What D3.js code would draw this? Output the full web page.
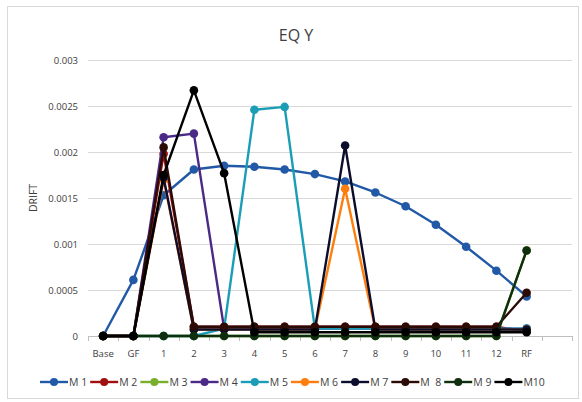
<!DOCTYPE html>
<html>
<head>
<meta charset="utf-8">
<script src="https://cdn.jsdelivr.net/npm/d3@7"></script>
<style>
  html, body { margin: 0; padding: 0; background: #fff; }
  svg { display: block; font-family: "Open Sans", "Liberation Sans", sans-serif; }
</style>
</head>
<body>
<svg id="chart" width="582" height="402"></svg>
<script>
// Floor labels along the x axis (one trailing empty slot, as in the workbook)
const categories = ["Base", "GF", "1", "2", "3", "4", "5", "6", "7", "8", "9", "10", "11", "12", "RF", ""];
const yTicks = [0, 0.0005, 0.001, 0.0015, 0.002, 0.0025, 0.003];
const yTickLabels = ["0", "0.0005", "0.001", "0.0015", "0.002", "0.0025", "0.003"];

const seriesNames = ["M 1", "M 2", "M 3", "M 4", "M 5", "M 6", "M 7", "M  8", "M 9", "M10"];
const seriesColors = ["#2259a6", "#a01010", "#7aaf2c", "#4a2a86", "#1b9db6", "#ff7d0d", "#0b0d2c", "#2c0a06", "#0e2e0e", "#000000"];

// Drift per floor, Base .. RF
const m1  = [0, 0.00061, 0.00153, 0.00181, 0.00185, 0.00184, 0.00181, 0.00176, 0.00168, 0.00156, 0.00141, 0.00121, 0.00097, 0.00071, 0.00043];
const m2  = [0, 0, 0.00198, 0.00010, 0.00010, 0.00010, 0.00010, 0.00010, 0.00010, 0.00010, 0.00010, 0.00010, 0.00010, 0.00010, 0.00005];
const m3  = [0, 0, 0, 0, 0, 0, 0, 0, 0, 0, 0, 0, 0, 0, 0.00093];
const m4  = [0, 0, 0.00216, 0.00220, 0.00008, 0.00008, 0.00008, 0.00008, 0.00008, 0.00008, 0.00008, 0.00008, 0.00008, 0.00008, 0.00008];
const m5  = [0, 0, 0, 0, 0.00008, 0.00246, 0.00249, 0.00008, 0.00008, 0.00008, 0.00008, 0.00008, 0.00008, 0.00008, 0.00008];
const m6  = [0, 0, 0.00170, 0.00007, 0.00007, 0.00007, 0.00007, 0.00007, 0.00160, 0.00007, 0.00007, 0.00007, 0.00007, 0.00007, 0.00007];
const m7  = [0, 0, 0.00172, 0.00007, 0.00007, 0.00007, 0.00007, 0.00007, 0.00207, 0.00007, 0.00007, 0.00007, 0.00007, 0.00007, 0.00007];
const m8  = [0, 0, 0.00205, 0.00010, 0.00010, 0.00010, 0.00010, 0.00010, 0.00010, 0.00010, 0.00010, 0.00010, 0.00010, 0.00010, 0.00047];
const m9  = [0, 0, 0, 0, 0, 0, 0, 0, 0, 0, 0, 0, 0, 0, 0.00093];
const m10 = [0, 0, 0.00175, 0.00267, 0.00177, 0.00004, 0.00004, 0.00004, 0.00004, 0.00004, 0.00004, 0.00004, 0.00004, 0.00004, 0.00004];

const seriesValues = [m1, m2, m3, m4, m5, m6, m7, m8, m9, m10];

const svg = d3.select("#chart");
const plot = { left: 88, right: 572, top: 60, bottom: 336 };

// Chart frame
svg.append("rect")
  .attr("x", 7.5).attr("y", 6.5)
  .attr("width", 571).attr("height", 392)
  .attr("fill", "#fff").attr("stroke", "#d9d9d9");

const x = d3.scaleBand().domain(categories).range([plot.left, plot.right]).padding(0);
const y = d3.scaleLinear().domain([0, 0.003]).range([plot.bottom, plot.top]);

// Title
svg.append("text")
  .attr("x", 296).attr("y", 41)
  .attr("text-anchor", "middle")
  .attr("font-size", 16).attr("fill", "#404040")
  .text("EQ Y");

// Horizontal gridlines
svg.append("g").selectAll("line")
  .data(yTicks.filter(d => d > 0))
  .join("line")
  .attr("x1", plot.left).attr("x2", plot.right)
  .attr("y1", d => Math.round(y(d)) + 0.5).attr("y2", d => Math.round(y(d)) + 0.5)
  .attr("stroke", "#d9d9d9").attr("stroke-width", 1);

// Y axis labels
const yAxis = d3.axisLeft(y).tickValues(yTicks)
  .tickFormat((d, i) => yTickLabels[i]).tickSize(0).tickPadding(10);
svg.append("g")
  .attr("transform", `translate(${plot.left},0)`)
  .call(yAxis)
  .call(g => g.select(".domain").remove())
  .call(g => g.selectAll("text").attr("font-size", 9.5).attr("fill", "#404040")
    .attr("font-family", "'Open Sans', 'Liberation Sans', sans-serif"));

// Y axis title
svg.append("text")
  .attr("transform", `translate(37,${(plot.top + plot.bottom) / 2}) rotate(-90)`)
  .attr("text-anchor", "middle")
  .attr("font-size", 10.5).attr("fill", "#404040")
  .text("DRIFT");

// X axis with tick marks between categories
const xAxisG = svg.append("g").attr("transform", `translate(0,${plot.bottom})`);
xAxisG.append("line")
  .attr("x1", plot.left).attr("x2", plot.right)
  .attr("y1", 0.5).attr("y2", 0.5)
  .attr("stroke", "#bfbfbf");
xAxisG.selectAll("line.tick")
  .data(categories.concat(["__end"]))
  .join("line").attr("class", "tick")
  .attr("x1", (d, i) => Math.round(plot.left + i * x.bandwidth()) + 0.5)
  .attr("x2", (d, i) => Math.round(plot.left + i * x.bandwidth()) + 0.5)
  .attr("y1", 0).attr("y2", 5)
  .attr("stroke", "#bfbfbf");
xAxisG.selectAll("text")
  .data(categories)
  .join("text")
  .attr("x", d => x(d) + x.bandwidth() / 2)
  .attr("y", 21)
  .attr("text-anchor", "middle")
  .attr("font-size", 9.5).attr("fill", "#404040")
  .text(d => d);

// Series lines and markers
const line = d3.line()
  .x((d, i) => x(categories[i]) + x.bandwidth() / 2)
  .y(d => y(d));

const seriesG = svg.append("g");
seriesValues.forEach((vals, s) => {
  const g = seriesG.append("g");
  g.append("path")
    .datum(vals)
    .attr("d", line)
    .attr("fill", "none")
    .attr("stroke", seriesColors[s])
    .attr("stroke-width", 2.4)
    .attr("stroke-linejoin", "round");
  g.selectAll("circle")
    .data(vals)
    .join("circle")
    .attr("cx", (d, i) => x(categories[i]) + x.bandwidth() / 2)
    .attr("cy", d => y(d))
    .attr("r", 4.3)
    .attr("fill", seriesColors[s]);
});

// Legend
const legend = svg.append("g").attr("transform", "translate(40,382)");
let lx = 0;
seriesNames.forEach((name, s) => {
  const item = legend.append("g").attr("transform", `translate(${lx},0)`);
  item.append("line")
    .attr("x1", 0).attr("x2", 28).attr("y1", 0).attr("y2", 0)
    .attr("stroke", seriesColors[s]).attr("stroke-width", 2.4);
  item.append("circle").attr("cx", 14).attr("cy", 0).attr("r", 4)
    .attr("fill", seriesColors[s]);
  const t = item.append("text")
    .attr("x", 29).attr("y", 4)
    .attr("font-size", 10.5).attr("fill", "#404040")
    .attr("xml:space", "preserve")
    .style("white-space", "pre")
    .text(name);
  lx += 29 + t.node().getComputedTextLength() + 3;
});
</script>
</body>
</html>
